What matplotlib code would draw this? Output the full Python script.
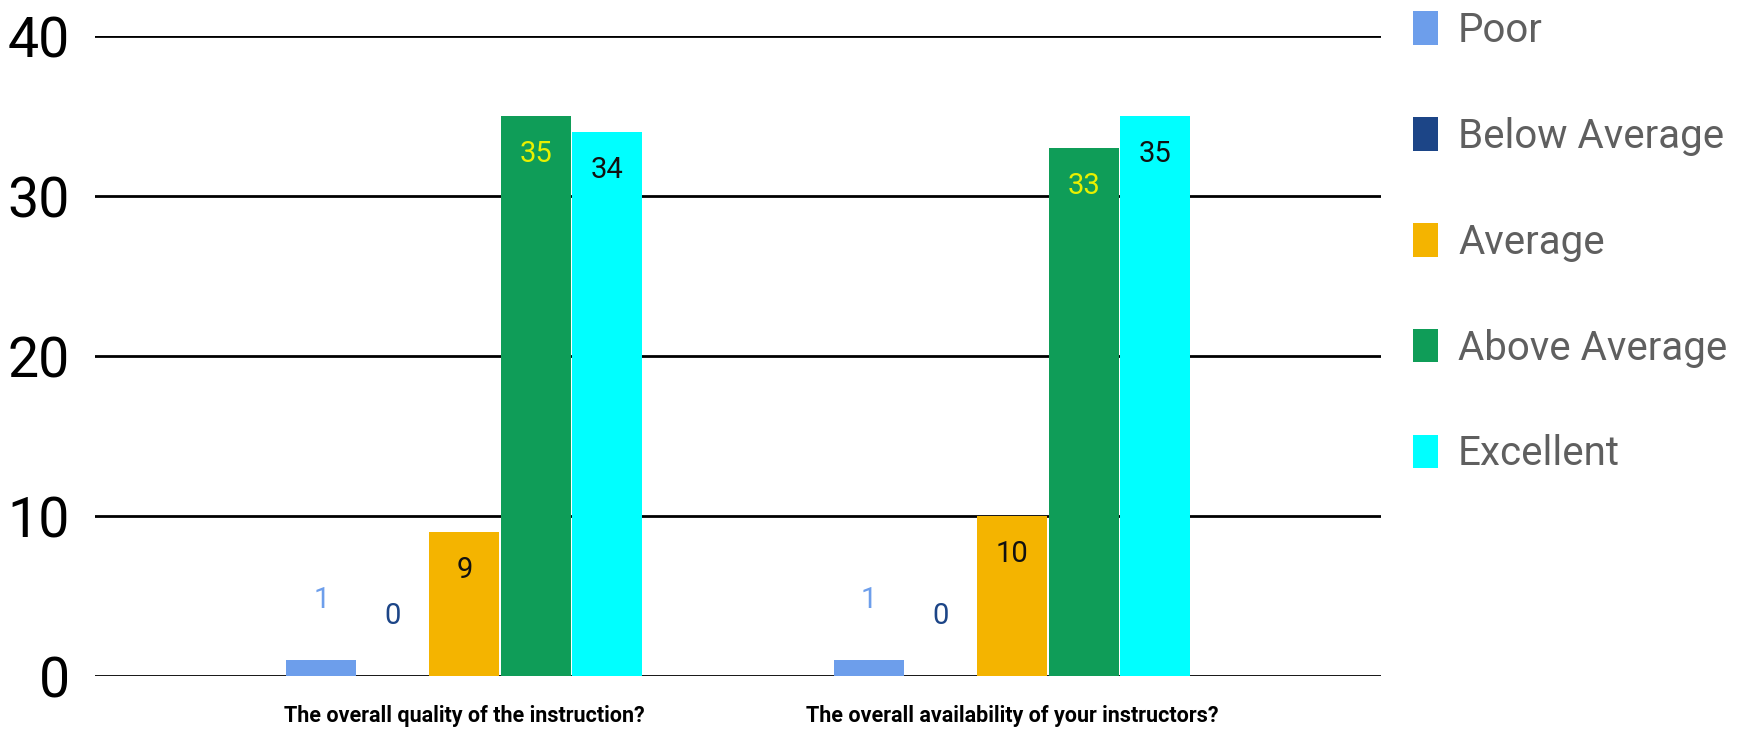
import numpy as np
import matplotlib.pyplot as plt
from matplotlib.patches import Patch

plt.rcParams['font.family'] = ['Roboto', 'DejaVu Sans']

# datos
questions = ["The overall quality of the instruction?",
             "The overall availability of your instructors?"]
ratings = ["Poor", "Below Average", "Average", "Above Average", "Excellent"]
poor = [1, 1]
below_avg = [0, 0]
average = [9, 10]
above_avg = [35, 33]
excellent = [34, 35]

colors = ["#6d9eeb", "#1c4587", "#f4b400", "#0f9d58", "#00ffff"]
label_colors = ["#6d9eeb", "#1c4587", "#111111", "#e8f000", "#111111"]

series = [poor, below_avg, average, above_avg, excellent]

fig = plt.figure(figsize=(17.58, 7.29), dpi=100)
ax = fig.add_axes([95/1758, 53/729, (1381-95)/1758, (676-36)/729])

x = np.arange(len(questions))
step = 71.5/548
width = 70/548

for i, (vals, col) in enumerate(zip(series, colors)):
    pos = x + (i - 2) * step
    ax.bar(pos, vals, width=width, color=col, zorder=3)
    for p, v in zip(pos, vals):
        # valores grandes dentro de la barra, pequenos encima
        if v >= 5:
            off = -27
        else:
            off = 43
        ax.annotate(str(v), (p, v), xytext=(0, off), textcoords="offset points",
                    ha="center", va="center", fontsize=21, color=label_colors[i], zorder=4)

ax.set_ylim(0, 40)
ax.set_xlim(-(464.5-95)/548, 1 + (1381-1012)/548)
ax.set_yticks([0, 10, 20, 30, 40])
ax.yaxis.grid(True, color="black", linewidth=2, zorder=0)
ax.set_axisbelow(True)
for s in ax.spines.values():
    s.set_visible(False)
ax.tick_params(axis="y", length=0, labelsize=40, pad=18)
ax.tick_params(axis="x", length=0, labelsize=15.5, pad=21)
ax.set_xticks(x)
ax.set_xticklabels(questions, fontweight="bold")
for lbl in ax.get_yticklabels():
    lbl.set_clip_on(False)

handles = [Patch(facecolor=c, edgecolor="none") for c in colors]
leg = fig.legend(handles, ratings, loc="upper left", bbox_to_anchor=(1413/1758, 1 - 11/729),
                 frameon=False, fontsize=29, handlelength=0.62, handleheight=0.9,
                 handletextpad=0.5, labelspacing=1.66, borderpad=0, borderaxespad=0)
for t in leg.get_texts():
    t.set_color("#5f5f5f")

fig.savefig("out.png", dpi=100)
